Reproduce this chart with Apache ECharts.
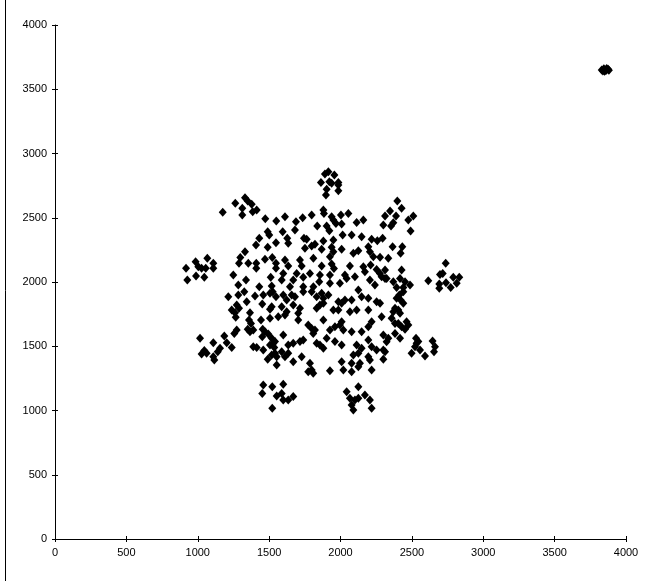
<!DOCTYPE html>
<html>
<head>
<meta charset="utf-8">
<style>html,body{margin:0;padding:0;background:#fff}#c{width:649px;height:581px}</style>
<script src="https://cdn.jsdelivr.net/npm/echarts@6/dist/echarts.min.js"></script>
</head>
<body>
<div id="c"></div>
<script>
const xTicks = [0,500,1000,1500,2000,2500,3000,3500,4000];
const yTicks = [0,500,1000,1500,2000,2500,3000,3500,4000];

const petalTopLeft = [[1175,2542],[1263,2612],[1331,2656],[1350,2630],[1378,2605],[1312,2573],[1385,2547],[1413,2560],[1312,2521]];
const petalLeft = [[1067,2184],[985,2158],[1109,2145],[918,2107],[1004,2119],[1027,2107],[1056,2107],[1109,2107],[927,2016],[988,2047],[1046,2037]];
const petalTop = [[1915,2858],[1891,2840],[1957,2832],[1863,2775],[1922,2780],[1938,2768],[1985,2775],[1985,2755],[1903,2721],[1898,2677],[1985,2710]];
const petalTopRight = [[2398,2630],[2428,2573],[2347,2552],[2312,2513],[2389,2513],[2510,2513],[2475,2482],[2370,2461],[2354,2435],[2300,2443],[2491,2397]];
const petalRight = [[2737,2145],[2697,2059],[2716,2067],[2790,2036],[2832,2036],[2615,2010],[2692,1984],[2739,1995],[2814,1990],[2772,1958],[2692,1951]];
const petalLowerRight = [[2529,1562],[2533,1523],[2545,1536],[2522,1497],[2557,1471],[2498,1445],[2592,1424],[2645,1541],[2662,1497],[2655,1458]];
const petalBottomRight = [[2043,1146],[2125,1185],[2066,1095],[2101,1082],[2125,1095],[2171,1121],[2078,1043],[2090,1004],[2206,1082],[2218,1017]];
const petalBottomLeft = [[1459,1198],[1522,1185],[1452,1133],[1553,1113],[1522,1017],[1599,1204],[1588,1133],[1599,1082],[1634,1082],[1669,1108]];
const petalLowerLeft = [[1016,1562],[1109,1528],[1046,1466],[1062,1445],[1027,1440],[1109,1419],[1116,1393],[1156,1484],[1140,1458],[1186,1580],[1203,1528],[1238,1491]];

const coreUpperLeft = [[1331,2236],[1298,2190],[1289,2145],[1354,2145],[1410,2145],[1410,2107],[1249,2054],[1338,2016],[1431,1964],[1518,1969],[1511,2037],[1284,1977],[1471,2177],[1522,2190],[1548,2145],[1548,2107],[1490,2271],[1408,2288],[1431,2340],[1490,2392],[1501,2366],[1548,2306],[1473,2493],[1550,2475]];

const coreUpperMid = [[1611,2508],[1688,2469],[1735,2500],[1798,2521],[1880,2560],[1884,2534],[1938,2508],[1950,2482],[2003,2521],[2055,2534],[1968,2456],[2008,2451],[1837,2435],[1903,2435],[1922,2399],[1595,2392],[1681,2404],[2113,2464],[2160,2482],[2078,2366],[2148,2353],[2218,2332],[2258,2321],[1627,2340],[1634,2301],[1744,2340],[1763,2332],[1880,2319],[1950,2327],[2015,2366],[1821,2293],[1798,2280],[1751,2262],[1868,2254],[1938,2270],[1950,2236],[2008,2254],[2090,2223],[2125,2244],[2195,2275],[2206,2236],[2230,2197],[1926,2197],[1810,2184],[1716,2171],[1611,2171],[1634,2124],[1728,2124],[1868,2124],[1938,2140],[1954,2106],[2066,2124],[2160,2119],[2211,2132],[2253,2098],[2171,2080],[2276,2067],[1599,2067],[1693,2067],[1786,2067],[1856,2054],[1926,2054],[2031,2054],[2043,2028],[2101,2041],[1739,2036],[1669,2015],[1588,2015],[1851,2002],[1926,1990],[1996,1990],[2206,2015],[2241,1976],[1646,1964],[1739,1964],[1810,1964]];

const coreUpperRight = [[2295,2340],[2365,2275],[2433,2275],[2421,2223],[2335,2184],[2277,2192],[2312,2093],[2428,2093],[2288,2041],[2312,2028],[2323,2028],[2370,2002],[2417,2028],[2452,2002],[2487,1977],[2393,1958],[2440,1958]];

const coreLowerLeft = [[1214,1886],[1284,1899],[1326,1925],[1401,1891],[1343,1847],[1459,1899],[1506,1912],[1525,1925],[1548,1886],[1273,1821],[1289,1795],[1238,1782],[1261,1761],[1452,1829],[1518,1808],[1506,1787],[1366,1761],[1266,1725],[1359,1704],[1373,1678],[1443,1704],[1506,1717],[1564,1730],[1350,1632],[1366,1613],[1389,1626],[1273,1626],[1256,1600],[1455,1632],[1471,1613],[1494,1595],[1452,1574],[1518,1562],[1529,1523],[1506,1510],[1541,1536],[1536,1491],[1389,1497],[1413,1491],[1459,1471],[1490,1398],[1518,1432],[1541,1445],[1553,1419],[1553,1354]];

const coreLowerMid = [[1599,1899],[1623,1860],[1658,1899],[1681,1886],[1739,1925],[1798,1925],[1833,1886],[1868,1912],[1880,1873],[1915,1899],[1985,1847],[2008,1834],[2031,1860],[2078,1860],[2125,1938],[2148,1886],[2195,1873],[2253,1847],[2195,1782],[1588,1808],[1669,1821],[1716,1795],[1704,1756],[1611,1743],[1623,1769],[1833,1795],[1856,1821],[1880,1834],[1950,1782],[1985,1782],[2066,1769],[2113,1782],[1704,1704],[1774,1665],[1798,1639],[1821,1626],[1809,1600],[1880,1704],[1926,1626],[1961,1652],[1996,1665],[2020,1626],[2008,1691],[2078,1613],[2148,1613],[2195,1652],[2218,1691],[1599,1588],[1634,1510],[1669,1523],[1716,1536],[1739,1549],[1588,1458],[1611,1419],[1634,1445],[1833,1523],[1856,1510],[1880,1484],[1903,1562],[1961,1536],[2008,1510],[2113,1510],[2148,1484],[2125,1445],[2090,1432],[2195,1549],[2218,1497],[2253,1471],[1669,1380],[1728,1419],[1786,1367],[1798,1315],[1774,1302],[1809,1289],[1926,1310],[2008,1380],[2020,1315],[2078,1302],[2078,1367],[2125,1341],[2136,1367],[2206,1393],[2218,1315],[2195,1419]];

const coreLowerRight = [[2393,1873],[2412,1899],[2421,1860],[2440,1834],[2440,1925],[2382,1795],[2370,1769],[2405,1782],[2417,1756],[2288,1730],[2358,1717],[2382,1678],[2405,1678],[2428,1652],[2452,1632],[2463,1691],[2475,1665],[2300,1588],[2335,1562],[2323,1535],[2382,1600],[2417,1562],[2300,1471],[2312,1458],[2300,1398],[2277,1834]];

const farCluster = [[3830,3650],[3845,3660],[3860,3645],[3875,3655],[3850,3640],[3865,3662],[3838,3642],[3880,3648]];

const allPoints = [].concat(petalTopLeft, petalLeft, petalTop, petalTopRight, petalRight, petalLowerRight, petalBottomRight, petalBottomLeft, petalLowerLeft, coreUpperLeft, coreUpperMid, coreUpperRight, coreLowerLeft, coreLowerMid, coreLowerRight, farCluster);

const chart = echarts.init(document.getElementById('c'), null, {renderer: 'canvas'});
const labelStyle = {color: '#000', fontFamily: 'Liberation Sans, Arial, sans-serif', fontSize: 11};
const lineStyle = {color: '#000', width: 1};
chart.setOption({
  animation: false,
  backgroundColor: '#fff',
  grid: {left: 55, right: 23, top: 25, bottom: 42, containLabel: false},
  xAxis: [
    {type: 'value', min: 0, max: 4000, interval: 500, position: 'bottom',
     axisLine: {show: true, onZero: false, lineStyle: lineStyle},
     axisTick: {show: true, inside: false, length: 3, lineStyle: lineStyle},
     axisLabel: Object.assign({margin: 8, formatter: v => String(v)}, labelStyle),
     splitLine: {show: false}},
    {type: 'value', min: 0, max: 4000, interval: 500, position: 'bottom', offset: 0,
     axisLine: {show: false},
     axisTick: {show: true, inside: true, length: 3, lineStyle: lineStyle},
     axisLabel: {show: false}, splitLine: {show: false}}
  ],
  yAxis: [
    {type: 'value', min: 0, max: 4000, interval: 500, position: 'left',
     axisLine: {show: true, onZero: false, lineStyle: lineStyle},
     axisTick: {show: true, inside: false, length: 3, lineStyle: lineStyle},
     axisLabel: Object.assign({margin: 8, formatter: v => String(v)}, labelStyle),
     splitLine: {show: false}},
    {type: 'value', min: 0, max: 4000, interval: 500, position: 'left', offset: 0,
     axisLine: {show: false},
     axisTick: {show: true, inside: true, length: 3, lineStyle: lineStyle},
     axisLabel: {show: false}, splitLine: {show: false}}
  ],
  graphic: [
    {type: 'line', shape: {x1: 5.5, y1: 0, x2: 5.5, y2: 581}, style: {stroke: '#000', lineWidth: 1}, silent: true}
  ],
  series: [{
    type: 'scatter',
    xAxisIndex: 0, yAxisIndex: 0,
    symbol: 'diamond',
    symbolSize: [8, 9],
    itemStyle: {color: '#000', opacity: 1},
    emphasis: {disabled: true},
    data: allPoints
  }]
});
</script>
</body>
</html>
